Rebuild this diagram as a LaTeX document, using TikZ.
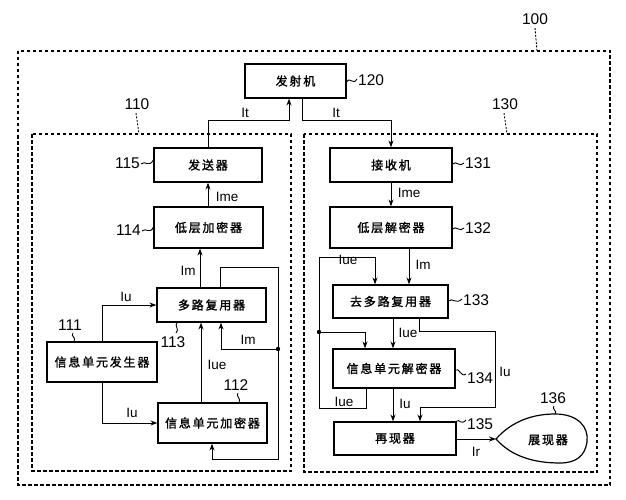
\documentclass[tikz,border=0pt]{standalone}
\usepackage{fontspec}
\setmainfont{Liberation Sans}
\newfontfamily\cjk{Noto Sans CJK SC}[LetterSpace=15, FakeBold=1.5]
\usetikzlibrary{arrows.meta}
\tikzset{
  blk/.style={draw, line width=1.2pt, inner sep=0pt, font=\cjk\fontsize{12}{12}\selectfont},
  lnk/.style={line width=1pt},
  arr/.style={lnk, -{Stealth[length=7pt,width=5pt]}},
  grp/.style={draw, line width=1.1pt, dash pattern=on 3.5pt off 2.5pt},
  num/.style={font=\fontsize{15.5}{16}\selectfont, inner sep=0pt},
  sig/.style={font=\fontsize{13.5}{14}\selectfont, inner sep=0pt},
  ldr/.style={line width=0.9pt},
  dldr/.style={line width=0.9pt, dash pattern=on 2pt off 1.5pt},
}
\begin{document}
\begin{tikzpicture}[x=1pt,y=-1pt]
\useasboundingbox (0,0) rectangle (626,500);
% group boxes
\draw[grp] (18,51) rectangle (610,485);
\draw[grp] (32,134) rectangle (291,471);
\draw[grp] (304,134) rectangle (597,472);
% blocks
\node[blk, minimum width=101pt, minimum height=34pt] (fsj) at (295.5,81) {发射机};
\node[blk, minimum width=108pt, minimum height=34pt] (fsq) at (208,165) {发送器};
\node[blk, minimum width=109pt, minimum height=41pt] (dcj) at (208.5,227.5) {低层加密器};
\node[blk, minimum width=109pt, minimum height=34pt] (dlf) at (211.5,305) {多路复用器};
\node[blk, minimum width=110pt, minimum height=40pt] (xsc) at (102,362) {信息单元发生器};
\node[blk, minimum width=109pt, minimum height=40pt] (xjm) at (212.5,423) {信息单元加密器};
\node[blk, minimum width=122pt, minimum height=34pt] (jsj) at (391,165) {接收机};
\node[blk, minimum width=122pt, minimum height=41pt] (dcjm) at (391,227.5) {低层解密器};
\node[blk, minimum width=115pt, minimum height=33pt] (qdl) at (390.5,301.5) {去多路复用器};
\node[blk, minimum width=122pt, minimum height=39pt] (xjd) at (394,368.5) {信息单元解密器};
\node[blk, minimum width=122pt, minimum height=33pt] (zxq) at (395,438.5) {再现器};
% presenter (teardrop)
\coordinate (tip) at (496,439);
\draw[line width=1.2pt] (tip) .. controls (512,421) and (533,414) .. (555,414)
  .. controls (578,414) and (589,427) .. (587,442)
  .. controls (585,456) and (576,463) .. (560,463)
  .. controls (535,463) and (512,457) .. (tip) -- cycle;
\node[font=\cjk\fontsize{12}{12}\selectfont, inner sep=0pt] (zhx) at (548,440) {展现器};
% bend coordinates
\coordinate (ltL) at (289,121);
\coordinate (ltR) at (302,121);
\coordinate (cLm) at (200,0);
\coordinate (cLmb) at (221,0);
\coordinate (cUe) at (201,0);
\coordinate (cEb) at (212,0);
\coordinate (cU1) at (102,0);
\coordinate (lpA) at (220,267);
\coordinate (lpB) at (278,459);
\coordinate (jd1) at (278,349);
\coordinate (cRm) at (409,0);
\coordinate (cRue) at (393,0);
\coordinate (rA) at (419,331);
\coordinate (rB) at (495,407);
\coordinate (cRu) at (420,0);
\coordinate (jd2) at (319,332);
\coordinate (rC) at (366,408);
\coordinate (rD) at (375,257);
\coordinate (cRd) at (365,0);
% connectors left
\draw[arr] (fsq.north) |- (ltL) -- (ltL |- fsj.south);
\draw[arr] (ltR |- fsj.south) -- (ltR) -| (jsj.north);
\draw[arr] (fsq.south |- dcj.north) -- (fsq.south);
\draw[arr] (dlf.north -| cLm) -- (dcj.south -| cLm);
\draw[arr] (dlf.north -| lpA) -- (lpA) -| (lpB) -| (xjm.south -| cEb);
\draw[arr] (jd1) -| (dlf.south -| cLmb);
\fill (jd1) circle (2.2pt);
\draw[arr] (xjm.north -| cUe) -- (dlf.south -| cUe);
\draw[arr] (xsc.north -| cU1) |- (dlf.west);
\draw[arr] (xsc.south -| cU1) |- (xjm.west);
% connectors right
\draw[arr] (jsj.south) -- (dcjm.north);
\draw[arr] (dcjm.south -| cRm) -- (qdl.north -| cRm);
\draw[arr] (qdl.south -| cRue) -- (xjd.north -| cRue);
\draw[arr] (xjd.south -| cRue) -- (zxq.north -| cRue);
\draw[arr] (qdl.south -| rA) -- (rA) -| (rB) -| (zxq.north -| cRu);
\draw[lnk] (xjd.south -| rC) -- (rC) -| (jd2);
\draw[arr] (jd2) |- (rD) -- (qdl.north -| rD);
\draw[arr] (jd2) -| (xjd.north -| cRd);
\fill (jd2) circle (2.2pt);
\draw[arr] (zxq.east |- tip) -- (tip);
% signal labels
\node[sig] at (245,113) {It};
\node[sig] at (336,113) {It};
\node[sig] at (227,197) {Ime};
\node[sig] at (409,193) {Ime};
\node[sig] at (188,271) {Im};
\node[sig] at (126,297) {Iu};
\node[sig] at (248,340) {Im};
\node[sig] at (217,365) {Iue};
\node[sig] at (132,413) {Iu};
\node[sig] at (348,260) {Iue};
\node[sig] at (423,265) {Im};
\node[sig] at (408,333) {Iue};
\node[sig] at (505,372) {Iu};
\node[sig] at (344,402) {Iue};
\node[sig] at (405,404) {Iu};
\node[sig] at (476,452) {Ir};
% reference numbers
\node[num] at (535,19) {100};
\draw[dldr] (535,28) -- (537,51);
\node[num] at (137,104) {110};
\draw[dldr] (136,113) -- (139,134);
\node[num] at (505,104) {130};
\draw[dldr] (504,113) -- (507,134);
\node[num, anchor=west] at (358,80) {120};
\draw[ldr] (fsj.east |- 0,82) .. controls (350,76) and (353,86) .. (357,79);
\node[num, anchor=east] at (140,163) {115};
\draw[ldr] (141,164) .. controls (145,160) and (149,168) .. (fsq.west |- 0,160);
\node[num, anchor=east] at (141,230) {114};
\draw[ldr] (142,231) .. controls (146,227) and (150,235) .. (dcj.west |- 0,227);
\node[num, anchor=west] at (465,163) {131};
\draw[ldr] (jsj.east |- 0,164) .. controls (456,160) and (460,168) .. (464,163);
\node[num, anchor=west] at (465,228) {132};
\draw[ldr] (dcjm.east |- 0,229) .. controls (456,225) and (460,233) .. (464,228);
\node[num, anchor=west] at (463,300) {133};
\draw[ldr] (qdl.east |- 0,301) .. controls (452,297) and (456,305) .. (462,299);
\node[num, anchor=west] at (467,378) {134};
\draw[ldr] (xjd.east |- 0,370) .. controls (459,367) and (461,378) .. (466,374);
\node[num, anchor=west] at (467,424) {135};
\draw[ldr] (zxq.north east) .. controls (459,418) and (461,426) .. (466,420);
\node[num] at (70,325) {111};
\draw[ldr] (73,333) .. controls (70,336) and (77,338) .. (xsc.north -| 74,0);
\node[num] at (173,342) {113};
\draw[ldr] (dlf.south -| 177,0) .. controls (174,326) and (180,329) .. (176,333);
\node[num] at (236,385) {112};
\draw[ldr] (238,393) .. controls (235,396) and (242,399) .. (xjm.north -| 239,0);
\node[num] at (553,398) {136};
\draw[ldr] (554,406) .. controls (551,409) and (558,411) .. (555,414);
\end{tikzpicture}
\end{document}
